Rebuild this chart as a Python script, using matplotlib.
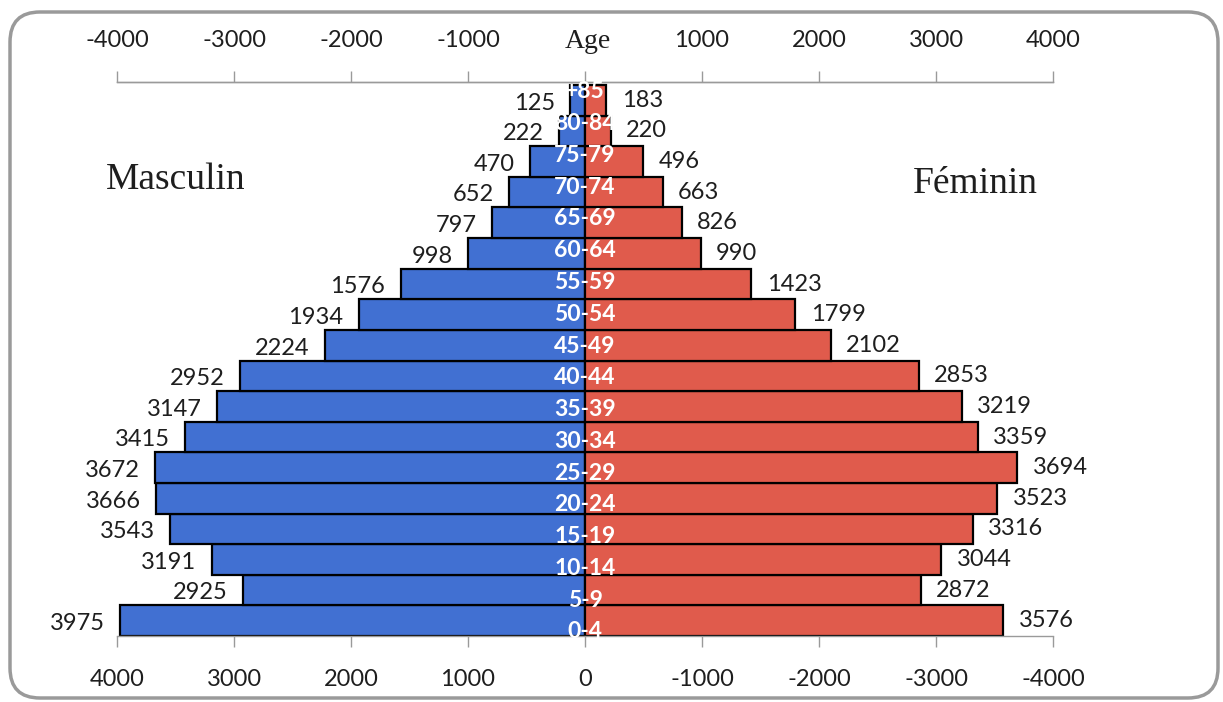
import matplotlib
matplotlib.use("Agg")
import matplotlib.pyplot as plt
from matplotlib.patches import FancyBboxPatch

# ---- data ----
age_groups = ["0-4", "5-9", "10-14", "15-19", "20-24", "25-29", "30-34", "35-39",
              "40-44", "45-49", "50-54", "55-59", "60-64", "65-69", "70-74",
              "75-79", "80-84", "+85"]
masculin = [3975, 2925, 3191, 3543, 3666, 3672, 3415, 3147, 2952, 2224, 1934,
            1576, 998, 797, 652, 470, 222, 125]
feminin = [3576, 2872, 3044, 3316, 3523, 3694, 3359, 3219, 2853, 2102, 1799,
           1423, 990, 826, 663, 496, 220, 183]
tick_values = [-4000, -3000, -2000, -1000, 0, 1000, 2000, 3000, 4000]
bottom_labels = ["4000", "3000", "2000", "1000", "0", "-1000", "-2000", "-3000", "-4000"]
top_labels = ["-4000", "-3000", "-2000", "-1000", "", "1000", "2000", "3000", "4000"]

BLUE = "#4170d2"
RED = "#e05b4c"
GREY = "#9a9a9a"
TXT = "#1e1e1e"
NUM_FONT = "Lato"
SERIF = "Liberation Serif"

W, H = 1223, 702
fig = plt.figure(figsize=(W / 100, H / 100), dpi=100)

ax_l, ax_r, ax_t, ax_b = 117, 1053, 82, 636
ax = fig.add_axes([ax_l / W, 1 - ax_b / H, (ax_r - ax_l) / W, (ax_b - ax_t) / H])

ypos = list(range(len(age_groups)))
ax.barh(ypos, [-v for v in masculin], height=1.0, color=BLUE,
        edgecolor="black", linewidth=1.6)
ax.barh(ypos, feminin, height=1.0, color=RED,
        edgecolor="black", linewidth=1.6)

ax.set_xlim(-4000, 4000)
ax.set_ylim(-0.5, 17.6)
ax.set_yticks([])

for s in ["left", "right"]:
    ax.spines[s].set_visible(False)
for s in ["top", "bottom"]:
    ax.spines[s].set_color(GREY)
    ax.spines[s].set_linewidth(1.0)

ax.set_xticks(tick_values)
ax.set_xticklabels(bottom_labels, fontfamily=NUM_FONT, fontsize=17, color=TXT)
ax.tick_params(axis="x", direction="out", length=8, width=1, color=GREY, pad=16)

sec = ax.secondary_xaxis("top")
sec.set_xticks(tick_values)
sec.set_xticklabels(top_labels, fontfamily=NUM_FONT, fontsize=17, color=TXT)
sec.tick_params(axis="x", direction="out", length=8, width=1, color=GREY, pad=14)
sec.spines["top"].set_color(GREY)
sec.spines["top"].set_linewidth(1.0)

# "Age" in place of the 0 label on top axis
ax.annotate("Age", xy=(0, 1), xycoords=("data", "axes fraction"),
            xytext=(2, 29), textcoords="offset points", ha="center", va="center",
            fontfamily=SERIF, fontsize=20, color=TXT)

# value labels
for y, m, f in zip(ypos, masculin, feminin):
    ax.annotate(str(m), xy=(-m, y), xytext=(-11, -2), textcoords="offset points",
                ha="right", va="center", fontfamily=NUM_FONT, fontsize=17,
                color=TXT)
    ax.annotate(str(f), xy=(f, y), xytext=(11, 0), textcoords="offset points",
                ha="left", va="center", fontfamily=NUM_FONT, fontsize=17,
                color=TXT)

# age group labels (category axis, slightly different spacing than bars)
ax2 = ax.twinx()
ax2.set_ylim(-0.126, 17.31)
ax2.set_axis_off()
for y, lab in zip(ypos, age_groups):
    ax2.text(0, y, lab, ha="center", va="center", color="white",
             fontweight="bold", fontfamily=NUM_FONT, fontsize=16.5)

# side titles
fig.text(176 / W, 1 - 180 / H, "Masculin", ha="center", va="center",
         fontfamily=SERIF, fontsize=27, color=TXT)
fig.text(975 / W, 1 - 184 / H, "Féminin", ha="center", va="center",
         fontfamily=SERIF, fontsize=27, color=TXT)

# rounded frame
frame = FancyBboxPatch((0.10, 0.04), 12.08, 6.86,
                       boxstyle="round,pad=0,rounding_size=0.3",
                       transform=fig.dpi_scale_trans, fill=False,
                       edgecolor=GREY, linewidth=2.5)
fig.patches.append(frame)

fig.savefig("out.png", dpi=100)
